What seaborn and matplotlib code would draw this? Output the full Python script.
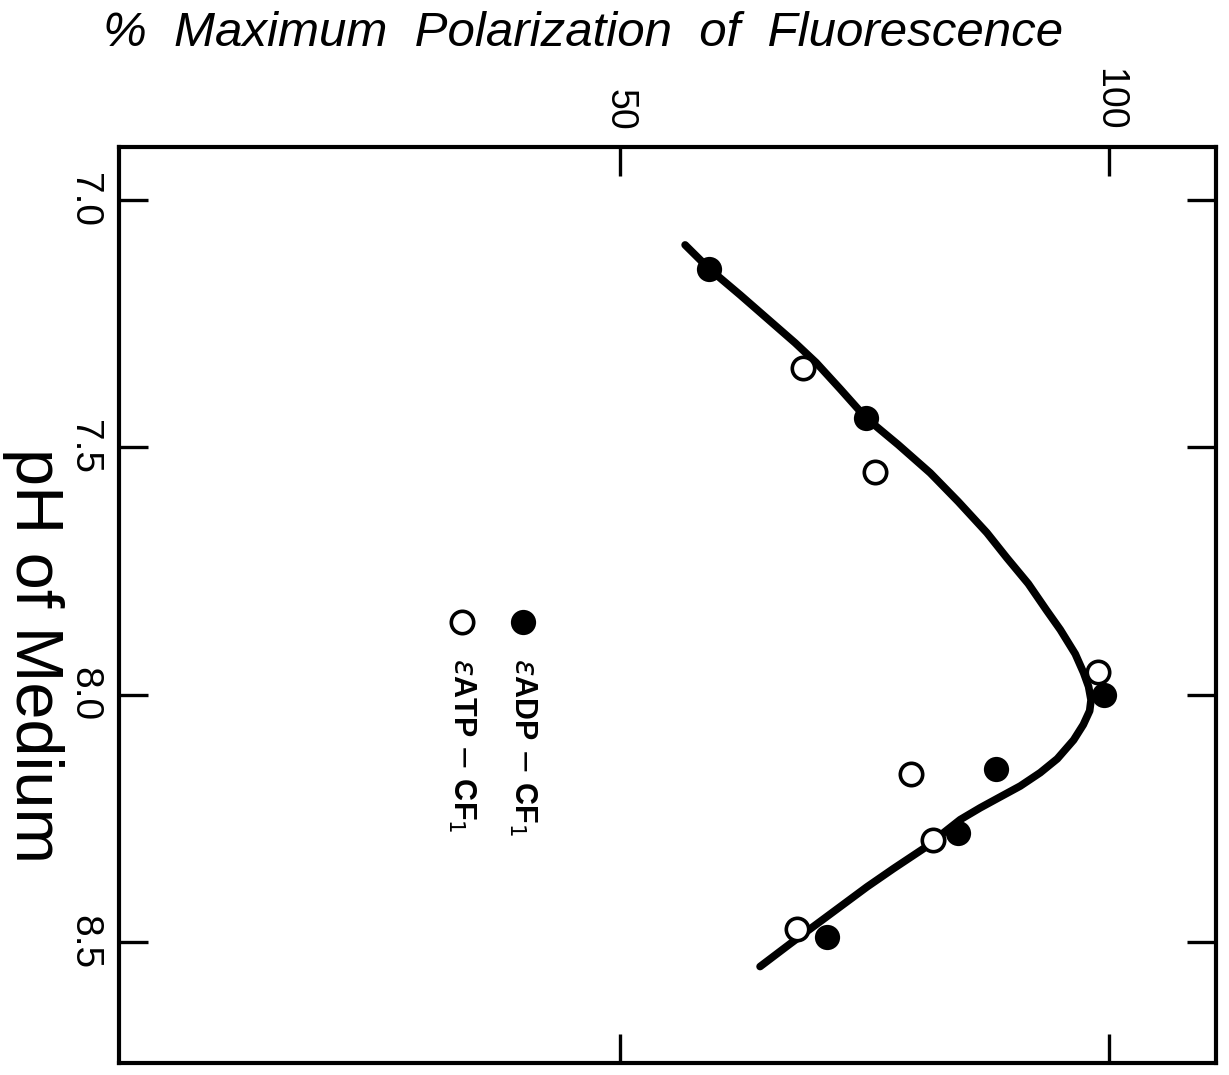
import numpy as np
import pandas as pd
import matplotlib
matplotlib.use("Agg")
import matplotlib.pyplot as plt
import seaborn as sns

# ---- data ----
ph_adp = [7.14, 7.44, 8.00, 8.15, 8.28, 8.49]
pol_adp = [59.1, 75.1, 99.5, 88.4, 84.5, 71.2]

ph_atp = [7.34, 7.55, 7.955, 8.16, 8.295, 8.475]
pol_atp = [68.7, 76.1, 98.8, 79.7, 82.0, 68.1]

curve_ph = [7.091, 7.139, 7.192, 7.245, 7.289, 7.329, 7.382, 7.441, 7.495,
            7.552, 7.610, 7.673, 7.724, 7.776, 7.829, 7.869, 7.918, 7.956,
            7.984, 8.011, 8.033, 8.061, 8.092, 8.130, 8.158, 8.185, 8.207,
            8.229, 8.253, 8.280, 8.307, 8.352, 8.389, 8.459, 8.504, 8.550]
curve_pol = [56.65, 59.10, 62.27, 65.34, 67.89, 70.04, 72.49, 75.15, 78.43,
             81.70, 84.56, 87.49, 89.54, 91.72, 93.56, 94.99, 96.52, 97.37,
             97.88, 98.13, 97.99, 97.34, 96.35, 94.68, 92.94, 90.90, 88.85,
             86.81, 84.76, 83.03, 81.36, 77.94, 75.23, 70.45, 67.38, 64.31]

x_ticks = [50, 100]
x_tick_labels = ["50", "100"]
y_ticks = [7.0, 7.5, 8.0, 8.5]
y_tick_labels = ["7.0", "7.5", "8.0", "8.5"]

title = "%  Maximum  Polarization  of  Fluorescence"
ylabel = "pH of Medium"
legend_labels = [r"$\epsilon$ADP $-$ CF$_1$", r"$\epsilon$ATP $-$ CF$_1$"]

# ---- style ----
sns.set_style("ticks")
plt.rcParams["font.family"] = ["Liberation Sans", "DejaVu Sans"]
plt.rcParams["mathtext.fontset"] = "dejavusans"
for key in ["text.color", "axes.labelcolor", "xtick.color", "ytick.color",
            "axes.edgecolor"]:
    plt.rcParams[key] = "black"

W, H = 1229, 1075
fig = plt.figure(figsize=(W / 100, H / 100), dpi=100)
L, R, T, B = 119, 1216, 147, 1063
ax = fig.add_axes([L / W, 1 - B / H, (R - L) / W, (B - T) / H])

df_curve = pd.DataFrame({"pol": curve_pol, "ph": curve_ph})
df_adp = pd.DataFrame({"pol": pol_adp, "ph": ph_adp})
df_atp = pd.DataFrame({"pol": pol_atp, "ph": ph_atp})

sns.lineplot(data=df_curve, x="pol", y="ph", sort=False, estimator=None,
             color="black", lw=5.5, ax=ax, zorder=2,
             solid_capstyle="round", solid_joinstyle="round")
sns.scatterplot(data=df_adp, x="pol", y="ph", ax=ax, color="black",
                s=330, marker="o", edgecolor="black", linewidth=0, zorder=3)
sns.scatterplot(data=df_atp, x="pol", y="ph", ax=ax, facecolor="white",
                s=260, marker="o", edgecolor="black", linewidth=2.6, zorder=4)

ax.set_xlim(-1.2, 110.9)
ax.set_ylim(8.745, 6.893)

ax.set_xticks(x_ticks)
ax.set_xticklabels(x_tick_labels)
ax.set_yticks(y_ticks)
ax.set_yticklabels(y_tick_labels)
ax.xaxis.set_ticks_position("both")
ax.yaxis.set_ticks_position("both")
ax.tick_params(axis="x", which="both", direction="in", length=21, width=2.4,
               labeltop=True, labelbottom=False, labelrotation=-90,
               labelsize=27, pad=12, colors="black")
ax.tick_params(axis="y", which="both", direction="in", length=21, width=2.4,
               labelleft=True, labelright=False, labelrotation=-90,
               labelsize=28, pad=12, colors="black")
for lab in ax.get_xticklabels():
    lab.set_va("bottom")
for lab in ax.get_yticklabels():
    lab.set_va("center")
ax.set_xlabel("")
ax.set_ylabel("")
for sp in ax.spines.values():
    sp.set_linewidth(3)
    sp.set_color("black")

# legend drawn inside the axes (rotated as in the original)
leg_x = [0.368, 0.3127]
leg_y = 0.4814
ax.scatter([leg_x[0]], [leg_y], s=330, color="black", transform=ax.transAxes,
           zorder=5, linewidths=0)
ax.scatter([leg_x[1]], [leg_y], s=260, facecolor="white", edgecolor="black",
           linewidths=2.6, transform=ax.transAxes, zorder=5)
for xx, txt in zip(leg_x, legend_labels):
    ax.text(xx, 0.442, txt, transform=ax.transAxes, rotation=-90,
            ha="center", va="top", fontsize=22, fontweight="bold",
            color="black")

fig.text(583 / W, 1 - 33 / H, title, ha="center", va="center",
         fontsize=35.5, fontstyle="italic", color="black")
fig.text(33 / W, 1 - 655 / H, ylabel, ha="center", va="center",
         rotation=-90, fontsize=48, color="black")

fig.savefig("out.png", dpi=100)
